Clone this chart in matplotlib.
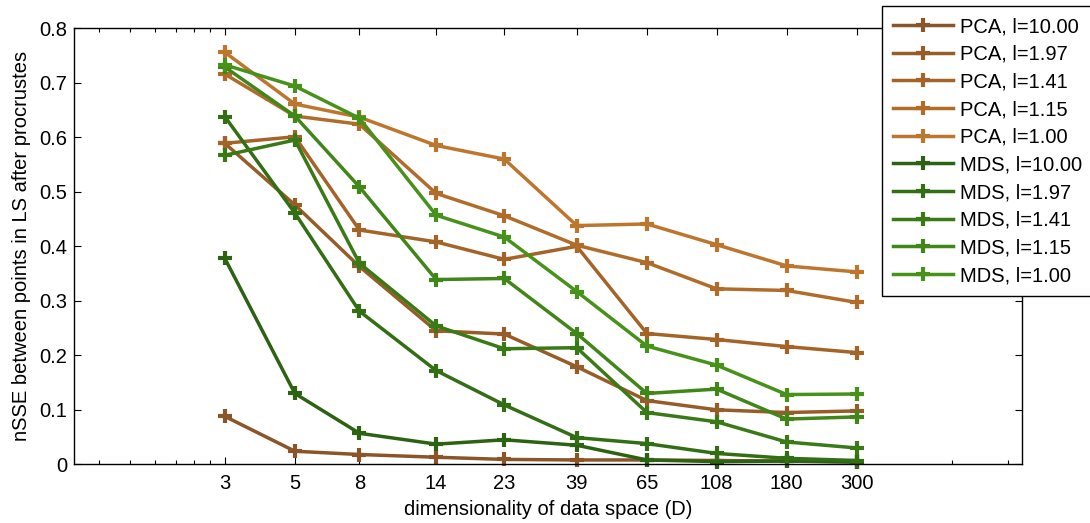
import matplotlib
matplotlib.use("Agg")
import matplotlib.pyplot as plt
from matplotlib.ticker import FixedLocator, NullFormatter

plt.rcParams["font.family"] = ["Liberation Sans", "DejaVu Sans"]

# dimensionality of data space
dims = [3, 5, 8, 14, 23, 39, 65, 108, 180, 300]

pca_labels = ["PCA, l=10.00", "PCA, l=1.97", "PCA, l=1.41", "PCA, l=1.15", "PCA, l=1.00"]
pca_l10 = [0.088, 0.024, 0.018, 0.013, 0.009, 0.008, 0.008, 0.007, 0.006, 0.005]
pca_l197 = [0.589, 0.476, 0.363, 0.245, 0.239, 0.179, 0.117, 0.100, 0.095, 0.098]
pca_l141 = [0.589, 0.601, 0.430, 0.408, 0.376, 0.400, 0.240, 0.229, 0.216, 0.205]
pca_l115 = [0.716, 0.639, 0.624, 0.497, 0.456, 0.402, 0.370, 0.322, 0.319, 0.297]
pca_l100 = [0.756, 0.661, 0.637, 0.585, 0.560, 0.438, 0.441, 0.403, 0.364, 0.353]

mds_labels = ["MDS, l=10.00", "MDS, l=1.97", "MDS, l=1.41", "MDS, l=1.15", "MDS, l=1.00"]
mds_l10 = [0.378, 0.130, 0.057, 0.037, 0.045, 0.035, 0.008, 0.005, 0.006, 0.004]
mds_l197 = [0.638, 0.461, 0.281, 0.172, 0.109, 0.049, 0.038, 0.020, 0.011, 0.007]
mds_l141 = [0.567, 0.595, 0.369, 0.254, 0.212, 0.214, 0.095, 0.078, 0.041, 0.030]
mds_l115 = [0.729, 0.639, 0.509, 0.339, 0.341, 0.240, 0.130, 0.138, 0.083, 0.087]
mds_l100 = [0.733, 0.694, 0.635, 0.457, 0.417, 0.317, 0.217, 0.182, 0.128, 0.129]

pca_colors = ["#8a5629", "#975d28", "#a46428", "#b16c2a", "#bd762d"]
mds_colors = ["#2c6312", "#326e14", "#397a16", "#408618", "#47921b"]

x_minor = [1.2, 1.5, 1.8, 2.1, 2.4, 2.7, 600, 900]
y_ticks = [0, 0.1, 0.2, 0.3, 0.4, 0.5, 0.6, 0.7, 0.8]
y_ticklabels = ["0", "0.1", "0.2", "0.3", "0.4", "0.5", "0.6", "0.7", "0.8"]

FS = 14.5

fig = plt.figure(figsize=(10.9, 5.23), dpi=100)
ax = fig.add_axes([0.0679, 0.1122, 0.8697, 0.8337])

series = [
    (pca_l10, pca_labels[0], pca_colors[0]),
    (pca_l197, pca_labels[1], pca_colors[1]),
    (pca_l141, pca_labels[2], pca_colors[2]),
    (pca_l115, pca_labels[3], pca_colors[3]),
    (pca_l100, pca_labels[4], pca_colors[4]),
    (mds_l10, mds_labels[0], mds_colors[0]),
    (mds_l197, mds_labels[1], mds_colors[1]),
    (mds_l141, mds_labels[2], mds_colors[2]),
    (mds_l115, mds_labels[3], mds_colors[3]),
    (mds_l100, mds_labels[4], mds_colors[4]),
]
for vals, lab, col in series:
    ax.plot(dims, vals, color=col, lw=2.5, marker="+", ms=10, mew=3, label=lab,
            clip_on=False)

ax.set_xscale("log")
ax.set_xlim(1, 1000)
ax.set_ylim(0, 0.8)
ax.xaxis.set_major_locator(FixedLocator(dims))
ax.set_xticklabels([str(d) for d in dims])
ax.xaxis.set_minor_locator(FixedLocator(x_minor))
ax.xaxis.set_minor_formatter(NullFormatter())
ax.set_yticks(y_ticks)
ax.set_yticklabels(y_ticklabels)

ax.tick_params(which="both", direction="in", top=True, right=True, labelsize=FS)
ax.tick_params(which="major", length=5, width=0.8)
ax.tick_params(which="minor", length=3, width=0.8)
ax.tick_params(axis="x", which="major", pad=7)
ax.tick_params(axis="y", which="major", pad=5)
for sp in ax.spines.values():
    sp.set_linewidth(1.0)

ax.set_xlabel("dimensionality of data space (D)", fontsize=FS, labelpad=5)
ax.set_ylabel("nSSE between points in LS after procrustes", fontsize=FS, labelpad=6)

leg = ax.legend(loc="upper left", bbox_to_anchor=(882 / 1090, 1 - 6 / 523),
                bbox_transform=fig.transFigure, fontsize=FS, frameon=True,
                fancybox=False, edgecolor="black", framealpha=1,
                handlelength=3.0, handletextpad=0.3, labelspacing=0.43,
                borderpad=0.55, borderaxespad=0)
leg.get_frame().set_linewidth(1.0)

fig.savefig("out.png", dpi=100)
